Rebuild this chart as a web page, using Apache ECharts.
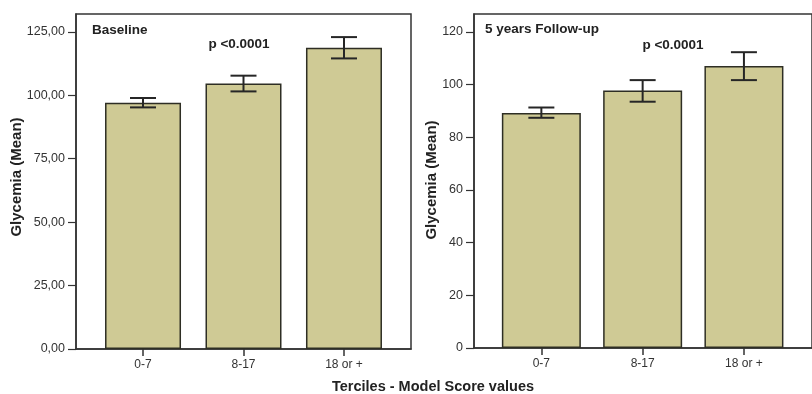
<!DOCTYPE html>
<html>
<head>
<meta charset="utf-8">
<script src="https://cdn.jsdelivr.net/npm/echarts@6/dist/echarts.min.js"></script>
<style>
html,body{margin:0;padding:0;background:#fff;}
#chart{width:812px;height:394px;}
</style>
</head>
<body>
<div id="chart"></div>
<script>
// ---- data ----
const categories = ['0-7', '8-17', '18 or +'];
const categoryIndex = [0, 1, 2];
const baselineMean = [97.0, 104.6, 118.7];
const baselineLow = [95.2, 101.5, 114.5];
const baselineHigh = [98.9, 107.7, 122.9];
const followMean = [89.2, 97.8, 107.1];
const followLow = [87.4, 93.5, 101.7];
const followHigh = [91.3, 101.7, 112.3];
const baselineTicks = [0, 25, 50, 75, 100, 125];
const followTicks = [0, 20, 40, 60, 80, 100, 120];
const panelTitles = ['Baseline', '5 years Follow-up'];
const pText = 'p <0.0001';
const yTitle = 'Glycemia (Mean)';
const xTitle = 'Terciles - Model Score values';

const FONT = '"Liberation Sans", Arial, sans-serif';
const barFill = '#cfca95';
const dark = '#262626';

const chart = echarts.init(document.getElementById('chart'), null, {renderer: 'canvas'});

function errRender(params, api) {
  const x = api.value(0);
  const lo = api.coord([x, api.value(1)]);
  const hi = api.coord([x, api.value(2)]);
  const w = 13;
  const st = {stroke: dark, lineWidth: 2};
  return {
    type: 'group',
    children: [
      {type: 'line', shape: {x1: lo[0], y1: lo[1], x2: hi[0], y2: hi[1]}, style: st},
      {type: 'line', shape: {x1: lo[0] - w, y1: lo[1], x2: lo[0] + w, y2: lo[1]}, style: st},
      {type: 'line', shape: {x1: hi[0] - w, y1: hi[1], x2: hi[0] + w, y2: hi[1]}, style: st}
    ]
  };
}

function xAxisFor(gridIndex, min, max) {
  return {
    type: 'value', gridIndex: gridIndex, min: min, max: max,
    splitLine: {show: false},
    axisLine: {show: true, onZero: false, lineStyle: {color: '#333', width: 1.5}},
    axisTick: {show: true, customValues: categoryIndex, length: 7, lineStyle: {color: '#333', width: 1.5}},
    axisLabel: {
      show: true, customValues: categoryIndex, margin: 10,
      formatter: v => categories[Math.round(v)] || '',
      color: '#333', fontSize: 12, fontFamily: FONT
    }
  };
}

function yAxisFor(gridIndex, max, ticks, fmt) {
  return {
    type: 'value', gridIndex: gridIndex, min: 0, max: max,
    splitLine: {show: false},
    axisLine: {show: true, onZero: false, lineStyle: {color: '#333', width: 1.5}},
    axisTick: {show: true, customValues: ticks, length: 8, lineStyle: {color: '#333', width: 1.2}},
    axisLabel: {
      show: true, customValues: ticks, margin: 11,
      formatter: fmt,
      color: '#333', fontSize: 12.5, fontFamily: FONT
    }
  };
}

const option = {
  backgroundColor: '#ffffff',
  animation: false,
  grid: [
    {left: 76, top: 14, width: 335, height: 335, show: true, borderColor: '#333', borderWidth: 1.5, backgroundColor: 'transparent'},
    {left: 474, top: 14, width: 352, height: 334, show: true, borderColor: '#333', borderWidth: 1.5, backgroundColor: 'transparent'}
  ],
  xAxis: [
    xAxisFor(0, -0.667, 2.667),
    xAxisFor(1, -0.665, 2.672)
  ],
  yAxis: [
    yAxisFor(0, 132, baselineTicks, v => v.toFixed(2).replace('.', ',')),
    yAxisFor(1, 126.8, followTicks, v => String(v))
  ],
  series: [
    {
      type: 'bar', xAxisIndex: 0, yAxisIndex: 0, barWidth: 76,
      data: categoryIndex.map(i => [i, baselineMean[i]]),
      itemStyle: {color: barFill, borderColor: '#2e2e24', borderWidth: 1.5}
    },
    {
      type: 'custom', xAxisIndex: 0, yAxisIndex: 0, z: 5,
      renderItem: errRender, encode: {x: 0, y: [1, 2]},
      data: categoryIndex.map(i => [i, baselineLow[i], baselineHigh[i]])
    },
    {
      type: 'bar', xAxisIndex: 1, yAxisIndex: 1, barWidth: 79,
      data: categoryIndex.map(i => [i, followMean[i]]),
      itemStyle: {color: barFill, borderColor: '#2e2e24', borderWidth: 1.5}
    },
    {
      type: 'custom', xAxisIndex: 1, yAxisIndex: 1, z: 5,
      renderItem: errRender, encode: {x: 0, y: [1, 2]},
      data: categoryIndex.map(i => [i, followLow[i], followHigh[i]])
    }
  ],
  graphic: [
    {type: 'text', x: 92, y: 30, z: 10, style: {text: panelTitles[0], font: 'bold 13.5px ' + FONT, fill: '#222', align: 'left', verticalAlign: 'middle'}},
    {type: 'text', x: 239, y: 44, z: 10, style: {text: pText, font: 'bold 13.5px ' + FONT, fill: '#222', align: 'center', verticalAlign: 'middle'}},
    {type: 'text', x: 485, y: 29, z: 10, style: {text: panelTitles[1], font: 'bold 13.5px ' + FONT, fill: '#222', align: 'left', verticalAlign: 'middle'}},
    {type: 'text', x: 673, y: 45, z: 10, style: {text: pText, font: 'bold 13.5px ' + FONT, fill: '#222', align: 'center', verticalAlign: 'middle'}},
    {type: 'text', x: 17, y: 177, rotation: Math.PI / 2, z: 10, style: {text: yTitle, font: 'bold 15px ' + FONT, fill: '#222', align: 'center', verticalAlign: 'middle'}},
    {type: 'text', x: 432, y: 180, rotation: Math.PI / 2, z: 10, style: {text: yTitle, font: 'bold 15px ' + FONT, fill: '#222', align: 'center', verticalAlign: 'middle'}},
    {type: 'text', x: 433, y: 387, z: 10, style: {text: xTitle, font: 'bold 14.5px ' + FONT, fill: '#222', align: 'center', verticalAlign: 'middle'}}
  ]
};
chart.setOption(option);
</script>
</body>
</html>
